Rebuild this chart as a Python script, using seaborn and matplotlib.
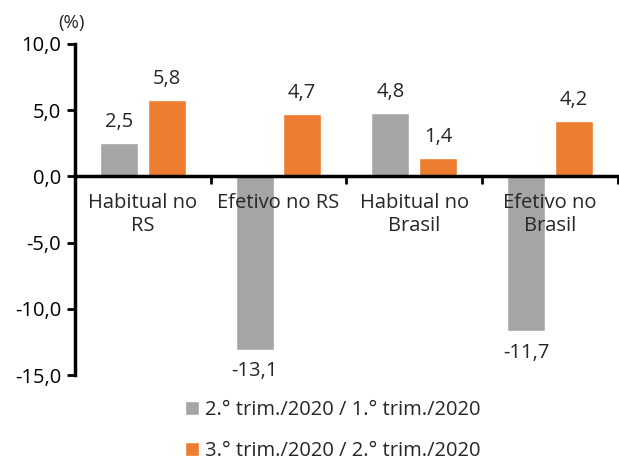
import pandas as pd
import seaborn as sns
import matplotlib.pyplot as plt
from matplotlib.ticker import FuncFormatter, FixedLocator

categories = ["Habitual no\nRS", "Efetivo no RS", "Habitual no\nBrasil", "Efetivo no\nBrasil"]
series_names = ["2.° trim./2020 / 1.° trim./2020", "3.° trim./2020 / 2.° trim./2020"]
q2_vs_q1 = [2.5, -13.1, 4.8, -11.7]
q3_vs_q2 = [5.8, 4.7, 1.4, 4.2]

df = pd.DataFrame({
    "cat": categories * 2,
    "serie": [series_names[0]] * 4 + [series_names[1]] * 4,
    "val": q2_vs_q1 + q3_vs_q2,
})

sns.set_theme(style="white")
plt.rcParams['font.family'] = ['Open Sans', 'DejaVu Sans']
fs = 14.5

fig = plt.figure(figsize=(6.19, 4.66), dpi=100)
ax = fig.add_axes([0.121, 0.195, 0.877, 0.7106])

sns.barplot(data=df, x="cat", y="val", hue="serie", order=categories,
            hue_order=series_names, palette=["#A5A5A5", "#ED7D31"],
            width=0.7, gap=0.2, saturation=1, ax=ax, legend=True)

ax.set_axisbelow(False)
ax.set_ylim(-15, 10)
ax.set_xlim(-0.5, 3.5)
ax.set_yticks([-15, -10, -5, 0, 5, 10])
ax.yaxis.set_major_formatter(FuncFormatter(lambda v, p: f"{v:.1f}".replace(".", ",")))
ax.tick_params(axis="y", left=True, direction="out", length=6, width=2,
               labelsize=fs, colors="black", pad=4)
ax.tick_params(axis="x", which="major", length=0, labelsize=fs, pad=12)
ax.xaxis.set_minor_locator(FixedLocator([0.5, 1.5, 2.5, 3.5]))
ax.tick_params(axis="x", which="minor", bottom=True, direction="out", length=6, width=2, color="black")
for t in ax.get_xticklabels():
    t.set_linespacing(1.1)
ax.set_xlabel("")
ax.set_ylabel("")

for s in ["top", "right"]:
    ax.spines[s].set_visible(False)
ax.spines["left"].set_linewidth(2.5)
ax.spines["left"].set_color("black")
ax.spines["bottom"].set_position(("data", 0))
ax.spines["bottom"].set_linewidth(2.5)
ax.spines["bottom"].set_color("black")

for cont in ax.containers:
    labels = [f"{b.get_height():.1f}".replace(".", ",") for b in cont]
    ax.bar_label(cont, labels=labels, padding=8, fontsize=fs)

ax.text(-0.03, 1.035, "(%)", transform=ax.transAxes, fontsize=fs - 1, ha="left", va="bottom")

handles, lbls = ax.get_legend_handles_labels()
ax.legend_.remove()
fig.legend(handles, lbls, loc="upper left", bbox_to_anchor=(0.283, 0.163),
           ncol=1, frameon=False, fontsize=fs, handlelength=0.7, handleheight=0.7,
           handletextpad=0.3, labelspacing=1.05, borderpad=0)

fig.savefig("out.png", dpi=100)
